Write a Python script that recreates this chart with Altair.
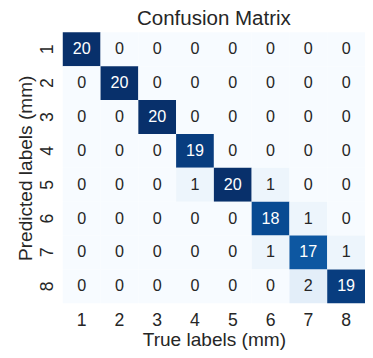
import altair as alt
import pandas as pd

labels = ["1", "2", "3", "4", "5", "6", "7", "8"]
# rows = predicted label, columns = true label
matrix = [
    [20, 0, 0, 0, 0, 0, 0, 0],
    [0, 20, 0, 0, 0, 0, 0, 0],
    [0, 0, 20, 0, 0, 0, 0, 0],
    [0, 0, 0, 19, 0, 0, 0, 0],
    [0, 0, 0, 1, 20, 1, 0, 0],
    [0, 0, 0, 0, 0, 18, 1, 0],
    [0, 0, 0, 0, 0, 1, 17, 1],
    [0, 0, 0, 0, 0, 0, 2, 19],
]
blues = ["#f7fbff", "#deebf7", "#c6dbef", "#9ecae1", "#6baed6",
         "#4292c6", "#2171b5", "#08519c", "#08306b"]

rows = []
for i, pred in enumerate(labels):
    for j, true in enumerate(labels):
        rows.append({"pred": pred, "true": true, "value": matrix[i][j]})
df = pd.DataFrame(rows)

FONT = "Liberation Sans"
TXT = "#262626"

x = alt.X("true:O", sort=labels, title="True labels (mm)",
          scale=alt.Scale(paddingInner=0, paddingOuter=0),
          axis=alt.Axis(orient="bottom", labelAngle=0, domain=False, ticks=False,
                        labelFontSize=18, labelColor=TXT, labelFont=FONT,
                        labelPadding=9, titleFontSize=19.5, titleColor=TXT,
                        titleFont=FONT, titleFontWeight="normal", titlePadding=1))
y = alt.Y("pred:O", sort=labels, title="Predicted labels (mm)",
          scale=alt.Scale(paddingInner=0, paddingOuter=0),
          axis=alt.Axis(domain=False, ticks=False, labelAngle=270,
                        labelAlign="center", labelBaseline="alphabetic",
                        labelFontSize=18, labelColor=TXT, labelFont=FONT,
                        labelPadding=10, titleFontSize=19.5, titleColor=TXT,
                        titleFont=FONT, titleFontWeight="normal", titlePadding=4))

base = alt.Chart(df)
heat = base.mark_rect(strokeWidth=0).encode(
    x=x, y=y,
    color=alt.Color("value:Q", legend=None,
                    scale=alt.Scale(domain=[0, 2.5, 5, 7.5, 10, 12.5, 15, 17.5, 20],
                                    range=blues, interpolate="rgb")),
)
text = base.mark_text(font=FONT, fontSize=16.5).encode(
    x=alt.X("true:O", sort=labels),
    y=alt.Y("pred:O", sort=labels),
    text="value:Q",
    color=alt.condition(alt.datum.value > 10, alt.value("white"), alt.value(TXT)),
)

chart = (heat + text).properties(
    width=309, height=277,
    title=alt.Title("Confusion Matrix", fontSize=21, font=FONT, color=TXT,
                    fontWeight="normal", anchor="middle", offset=4),
    autosize=alt.AutoSizeParams(type="none"),
    padding={"left": 56, "top": 21, "right": 0, "bottom": 50},
).configure_view(stroke=None)

chart.save("out.html", embed_options={"renderer": "svg", "actions": False})
